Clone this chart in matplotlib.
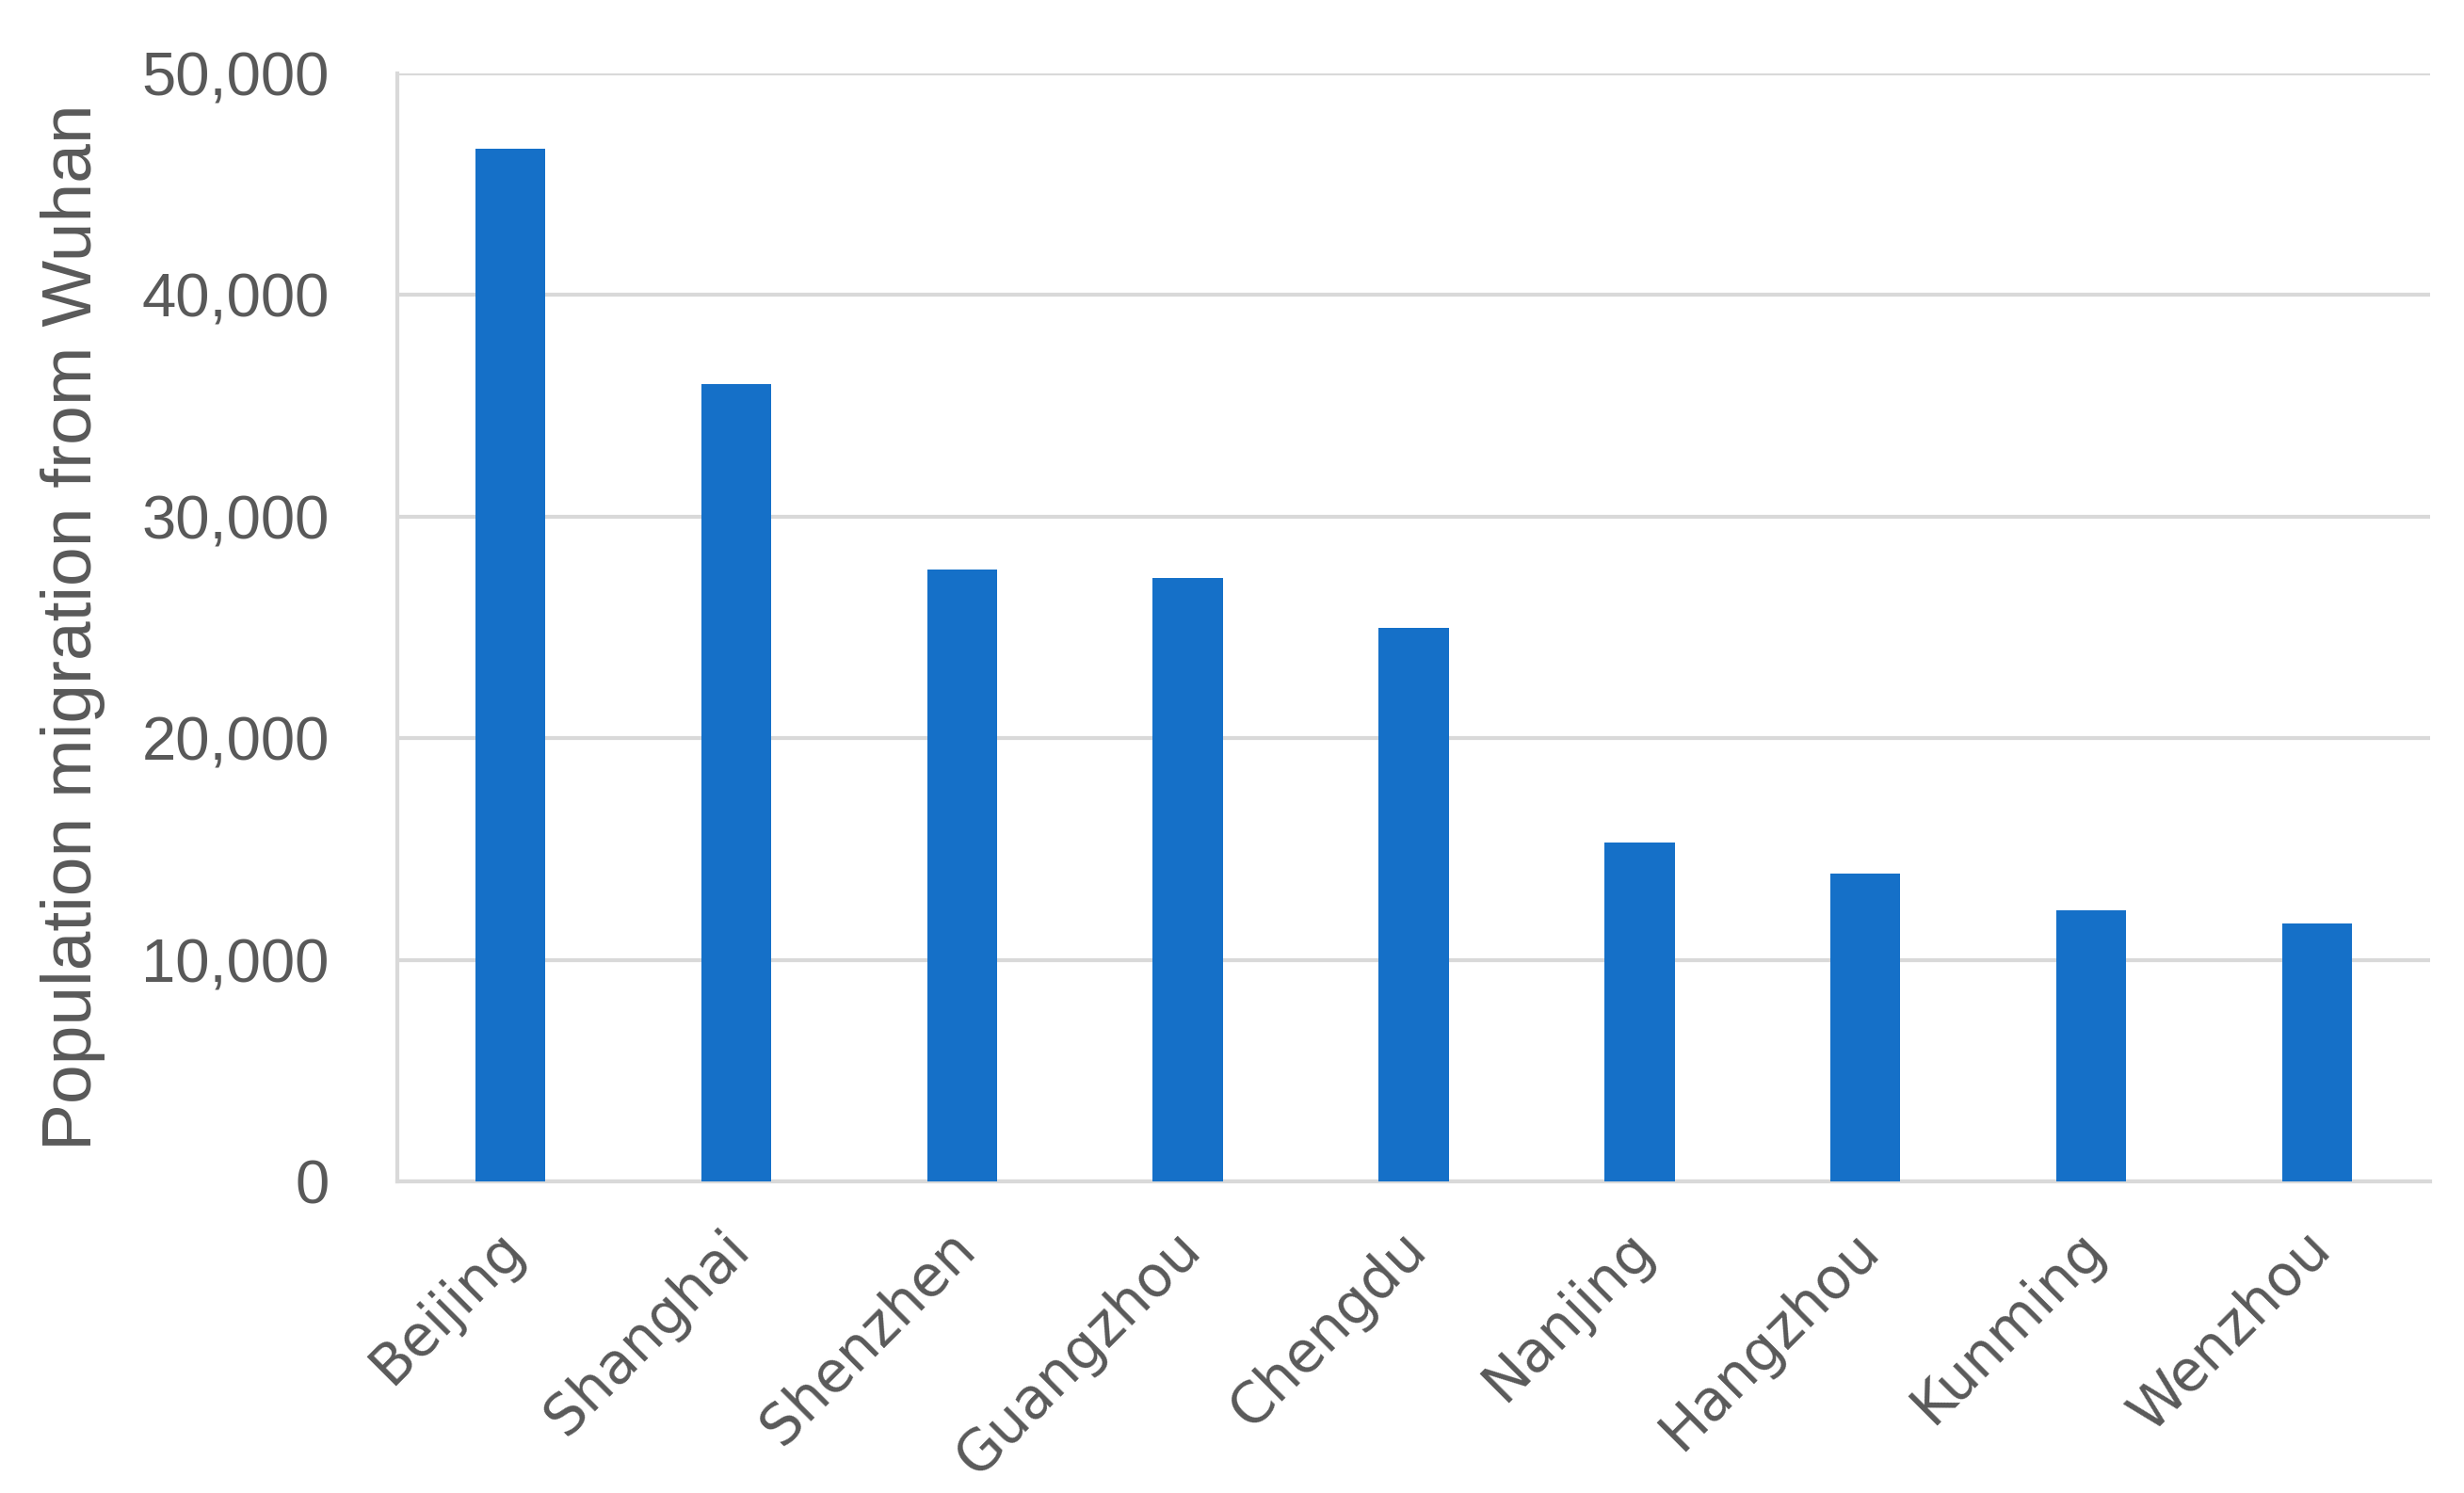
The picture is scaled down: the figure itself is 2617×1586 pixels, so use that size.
"""Population migration from Wuhan, bar chart"""
import matplotlib
matplotlib.use('Agg')
import matplotlib.pyplot as plt
import matplotlib.transforms as mtransforms
from matplotlib.ticker import FuncFormatter

cities = ["Beijing", "Shanghai", "Shenzhen", "Guangzhou", "Chengdu",
          "Nanjing", "Hangzhou", "Kunming", "Wenzhou"]
migration = [46600, 36000, 27600, 27250, 25000, 15300, 13900, 12250, 11650]
y_ticks = [0, 10000, 20000, 30000, 40000, 50000]

plt.rcParams['font.family'] = ['Liberation Sans', 'DejaVu Sans']

fig = plt.figure(figsize=(26.17, 15.86), dpi=100)
ax = fig.add_axes([422 / 2617, 1 - 1255 / 1586, (2581 - 422) / 2617, (1255 - 78) / 1586])

ax.bar(range(len(cities)), migration, width=0.31, color='#1570C8', zorder=3)

ax.set_xlim(-0.5, len(cities) - 0.5)
ax.set_ylim(0, 50000)
ax.set_yticks(y_ticks)
ax.yaxis.set_major_formatter(FuncFormatter(lambda v, p: f"{int(v):,}"))
ax.grid(axis='y', color='#D9D9D9', linewidth=3, zorder=0)

# x 轴标签：手动放置，稍微向左偏移
ax.set_xticks(range(len(cities)))
ax.set_xticklabels([])
base = mtransforms.blended_transform_factory(ax.transData, ax.transAxes)
offset = mtransforms.ScaledTranslation(-0.16, -0.42, fig.dpi_scale_trans)
for i, city in enumerate(cities):
    ax.text(i, 0, city, transform=base + offset, rotation=45, ha='right', va='top',
            rotation_mode='anchor', family='DejaVu Sans', fontsize=43, color='#595959')

ax.tick_params(axis='y', length=0, pad=52, labelsize=47, labelcolor='#595959')
ax.tick_params(axis='x', length=0)

for side in ('top', 'right'):
    ax.spines[side].set_visible(False)
for side in ('left', 'bottom'):
    ax.spines[side].set_color('#D9D9D9')
    ax.spines[side].set_linewidth(3)

ax.set_ylabel("Population migration from Wuhan", fontsize=54, color='#595959', labelpad=28)

fig.savefig('out.png', dpi=100, facecolor='white')
